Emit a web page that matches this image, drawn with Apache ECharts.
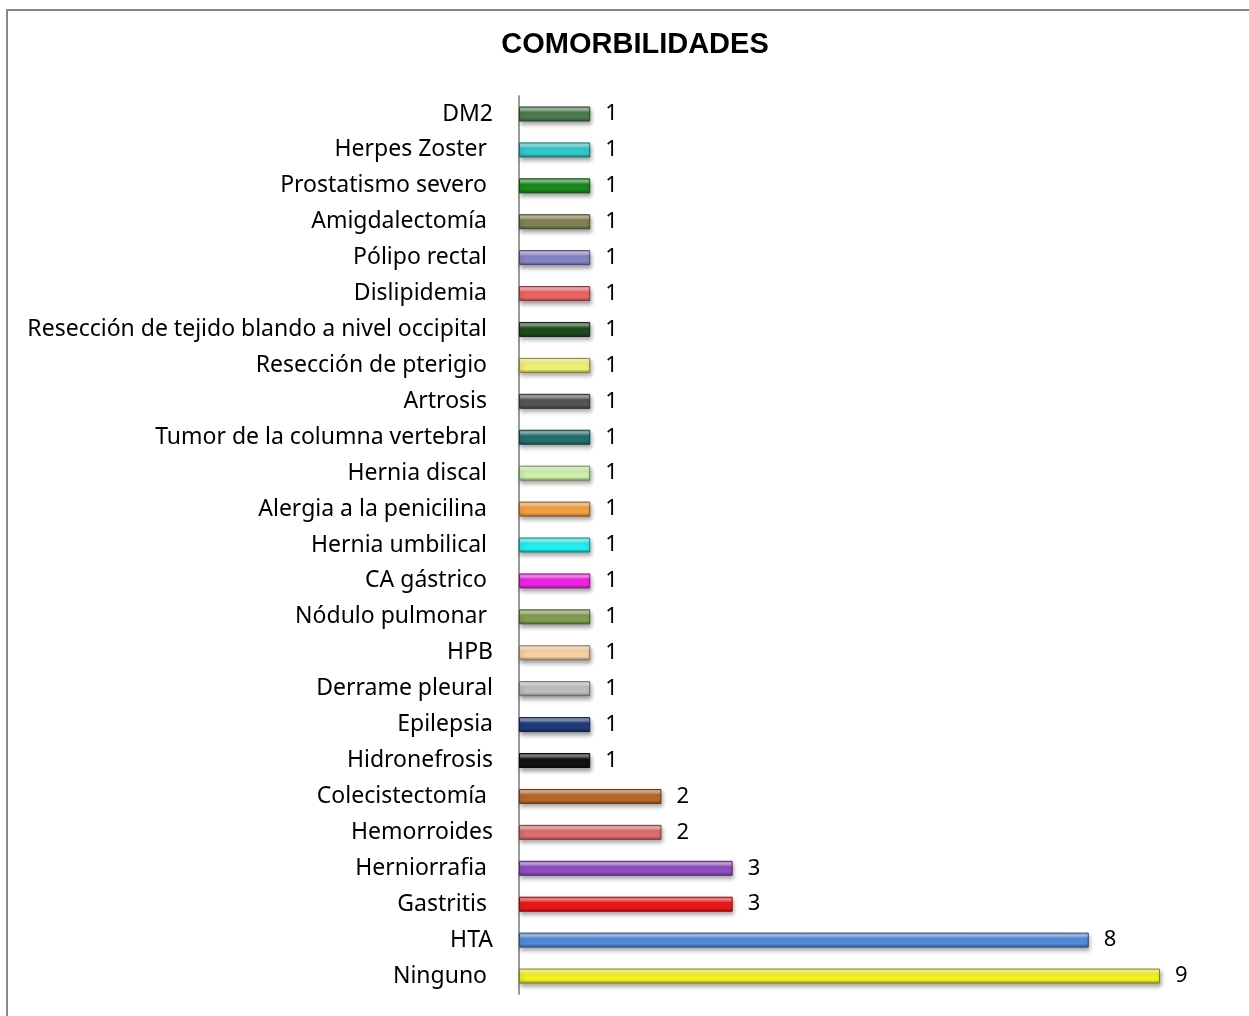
<!DOCTYPE html>
<html>
<head>
<meta charset="utf-8">
<style>
html,body{margin:0;padding:0;background:#fff;}
#c{width:1249px;height:1016px;}
</style>
<script src="https://cdn.jsdelivr.net/npm/echarts@6/dist/echarts.min.js"></script>
</head>
<body>
<div id="c"></div>
<script>
// Categories from bottom (Ninguno) to top (DM2)
const categories = [
  "Ninguno ", "HTA", "Gastritis ", "Herniorrafia ", "Hemorroides", "Colecistectomía ",
  "Hidronefrosis", "Epilepsia", "Derrame pleural", "HPB", "Nódulo pulmonar ",
  "CA gástrico ", "Hernia umbilical ", "Alergia a la penicilina ", "Hernia discal ",
  "Tumor de la columna vertebral ", "Artrosis ", "Resección de pterigio ",
  "Resección de tejido blando a nivel occipital ", "Dislipidemia ", "Pólipo rectal ",
  "Amigdalectomía ", "Prostatismo severo ", "Herpes Zoster ", "DM2"
];
const values = [9, 8, 3, 3, 2, 2, 1, 1, 1, 1, 1, 1, 1, 1, 1, 1, 1, 1, 1, 1, 1, 1, 1, 1, 1];
const barColors = [
  "#F2F21E", "#4F8BD6", "#EE1616", "#8E4EC2", "#DC6E6E", "#B8682A",
  "#121212", "#1F3B7C", "#BDBDBD", "#F8CFA2", "#7F9F4F",
  "#F022E2", "#22EEF0", "#F4A040", "#CCF2AA",
  "#237070", "#555555", "#F0F070",
  "#1E4B1E", "#EE6363", "#8585C8",
  "#808050", "#1A8A1C", "#30C8CA", "#4E7C4E"
];

function hex2rgb(h){h=h.replace('#','');return [parseInt(h.substr(0,2),16),parseInt(h.substr(2,2),16),parseInt(h.substr(4,2),16)];}
function mix(h, t, a){const c=hex2rgb(h);const r=c.map((v,i)=>Math.round(v+(t[i]-v)*a));return 'rgb('+r.join(',')+')';}
function lighter(h,a){return mix(h,[255,255,255],a);}
function darker(h,a){return mix(h,[0,0,0],a);}

const chart = echarts.init(document.getElementById('c'), null, {renderer:'canvas'});
const labelFont = "'Noto Sans', sans-serif";
chart.setOption({
  animation:false,
  backgroundColor:'#fff',
  title:{
    text:'COMORBILIDADES',
    left:630, top:25, textAlign:'center',
    textStyle:{fontFamily:"'Liberation Sans', Arial, sans-serif", fontWeight:'bold', fontSize:29, color:'#000'}
  },
  graphic:[{
    type:'rect', shape:{x:7,y:10,width:1262,height:1030},
    style:{fill:'none', stroke:'#888', lineWidth:2}, silent:true
  }],
  grid:{left:519, top:96, width:641, height:898, containLabel:false},
  xAxis:{
    type:'value', min:0, max:9, show:false,
    splitLine:{show:false}
  },
  yAxis:{
    type:'category', data:categories,
    axisLine:{show:true, lineStyle:{color:'#9a9a9a', width:2}},
    axisTick:{show:false},
    axisLabel:{fontFamily:labelFont, fontSize:23, color:'#000', margin:26, padding:[0,0,13,0]}
  },
  series:[{
    type:'bar',
    data:values.map((v,i)=>{
      const c=barColors[i];
      return {value:v, itemStyle:{
        color:new echarts.graphic.LinearGradient(0,0,0,1,[
          {offset:0, color:lighter(c,0.25)},
          {offset:0.2, color:lighter(c,0.5)},
          {offset:0.4, color:c},
          {offset:0.75, color:c},
          {offset:1, color:darker(c,0.35)}
        ]),
        borderColor:darker(c,0.45), borderWidth:1,
        shadowColor:'rgba(0,0,0,0.35)', shadowBlur:4, shadowOffsetY:3, shadowOffsetX:1
      }};
    }),
    barWidth:15,
    label:{show:true, position:'right', distance:15, fontFamily:labelFont, fontSize:22, color:'#000', padding:[0,0,8,0]}
  }]
});
</script>
</body>
</html>
